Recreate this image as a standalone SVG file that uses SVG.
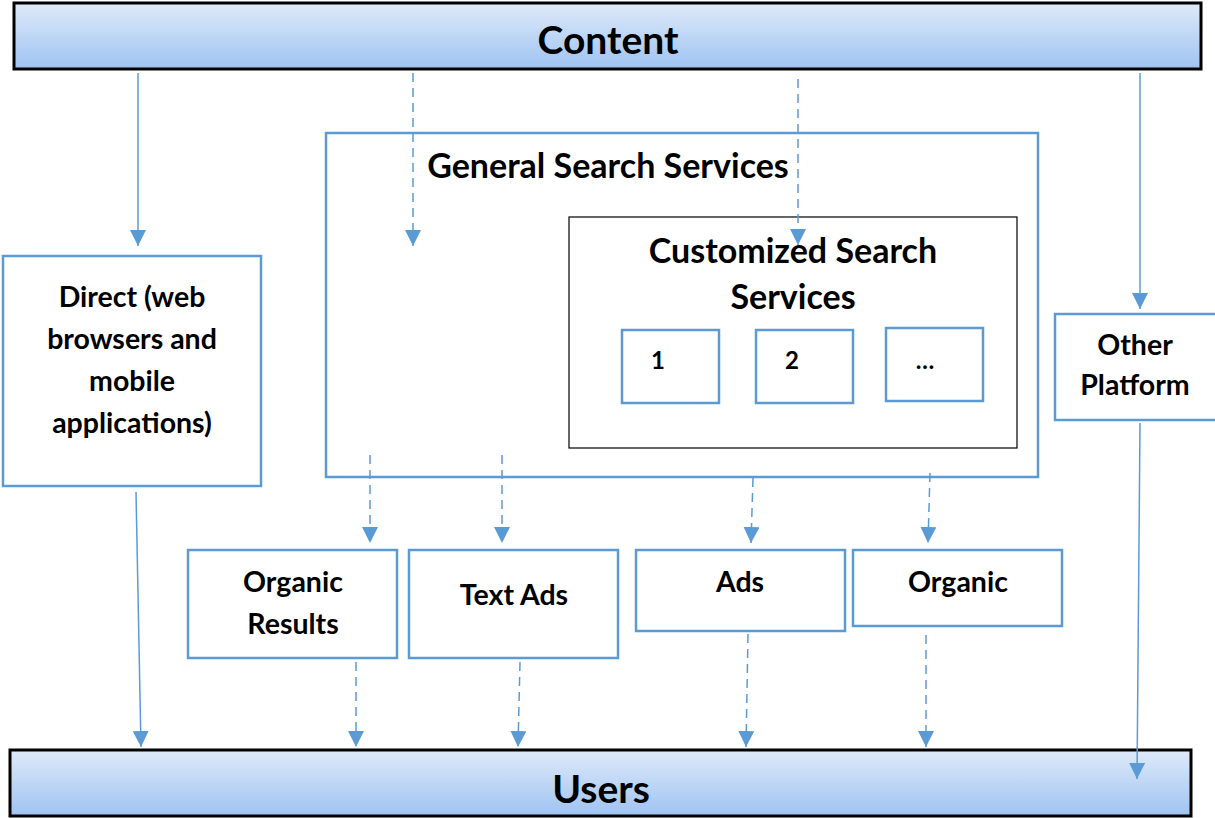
<svg xmlns="http://www.w3.org/2000/svg" width="1215" height="818" viewBox="0 0 1215 818">
<defs>
<linearGradient id="bar" x1="0" y1="0" x2="0" y2="1">
<stop offset="0" stop-color="#dfeaf9"/>
<stop offset="1" stop-color="#9ec3f2"/>
</linearGradient>
<marker id="a" viewBox="0 0 16 16" refX="16" refY="8" markerWidth="16" markerHeight="16" markerUnits="userSpaceOnUse" orient="auto">
<path d="M0,0 L16,8 L0,16 Z" fill="#5b9bd5"/>
</marker>
</defs>
<style>
.bar{fill:url(#bar);stroke:#000;stroke-width:3}
.box{fill:#fff;stroke:#5b9bd5;stroke-width:2.5}
.inner{fill:#fff;stroke:#000;stroke-width:1.2}
.t{font-family:Lato,"Open Sans","Liberation Sans",sans-serif;font-weight:bold;fill:#000;text-anchor:middle}
.big{font-size:39px}
.mid{font-size:34px}
.lbl{font-size:28.5px}
.sm{font-size:24px}
.c{fill:none;stroke:#5b9bd5;stroke-width:1.5;marker-end:url(#a)}
.d{stroke-dasharray:9,6}
</style>
<g id="content">
<rect class="bar" x="14" y="3" width="1187" height="66"/>
<text class="t big" x="608" y="54">Content</text>
</g>
<g id="users">
<rect class="bar" x="10" y="750" width="1181" height="66"/>
<text class="t big" x="601" y="803">Users</text>
</g>
<g id="direct">
<rect class="box" x="3" y="256" width="258" height="230"/>
<text class="t lbl" x="132" y="307">Direct (web</text>
<text class="t lbl" x="132" y="349">browsers and</text>
<text class="t lbl" x="132" y="391">mobile</text>
<text class="t lbl" x="132" y="433">applications)</text>
</g>
<g id="general">
<rect class="box" x="326" y="133" width="712" height="344"/>
<text class="t mid" x="608" y="178">General Search Services</text>
</g>
<g id="customized">
<rect class="inner" x="569" y="217" width="448" height="231"/>
<text class="t mid" x="793" y="263">Customized Search</text>
<text class="t mid" x="793" y="309">Services</text>
</g>
<g id="cs1">
<rect class="box" x="622" y="330" width="97" height="73"/>
<text class="t sm" x="658" y="369">1</text>
</g>
<g id="cs2">
<rect class="box" x="756" y="330" width="97" height="73"/>
<text class="t sm" x="792" y="369">2</text>
</g>
<g id="cs3">
<rect class="box" x="886" y="328" width="97" height="73"/>
<text class="t sm" x="925" y="369">…</text>
</g>
<g id="other">
<rect class="box" x="1055" y="314" width="163" height="106"/>
<text class="t lbl" x="1135" y="355">Other</text>
<text class="t lbl" x="1135" y="395">Platform</text>
</g>
<g id="organic-results">
<rect class="box" x="188" y="550" width="209" height="108"/>
<text class="t lbl" x="293" y="592">Organic</text>
<text class="t lbl" x="293" y="634">Results</text>
</g>
<g id="text-ads">
<rect class="box" x="409" y="550" width="209" height="108"/>
<text class="t lbl" x="514" y="605">Text Ads</text>
</g>
<g id="ads">
<rect class="box" x="636" y="550" width="209" height="81"/>
<text class="t lbl" x="740" y="592">Ads</text>
</g>
<g id="organic">
<rect class="box" x="853" y="550" width="209" height="76"/>
<text class="t lbl" x="958" y="592">Organic</text>
</g>
<g id="connectors">
<line class="c" x1="138" y1="73" x2="138" y2="246"/>
<line class="c d" x1="413" y1="73" x2="413" y2="246"/>
<line class="c d" x1="798" y1="79" x2="798" y2="245"/>
<line class="c" x1="1140" y1="73" x2="1140" y2="309"/>
<line class="c" x1="136" y1="492" x2="141" y2="747"/>
<line class="c d" x1="370" y1="455" x2="370" y2="543"/>
<line class="c d" x1="502" y1="455" x2="502" y2="543"/>
<line class="c d" x1="753" y1="478" x2="751" y2="543"/>
<line class="c d" x1="930" y1="473" x2="928" y2="543"/>
<line class="c d" x1="356" y1="662" x2="356" y2="747"/>
<line class="c d" x1="520" y1="662" x2="518" y2="747"/>
<line class="c d" x1="748" y1="634" x2="746" y2="747"/>
<line class="c d" x1="926" y1="635" x2="926" y2="747"/>
<line class="c" x1="1140" y1="423" x2="1137" y2="779"/>
</g>
</svg>
